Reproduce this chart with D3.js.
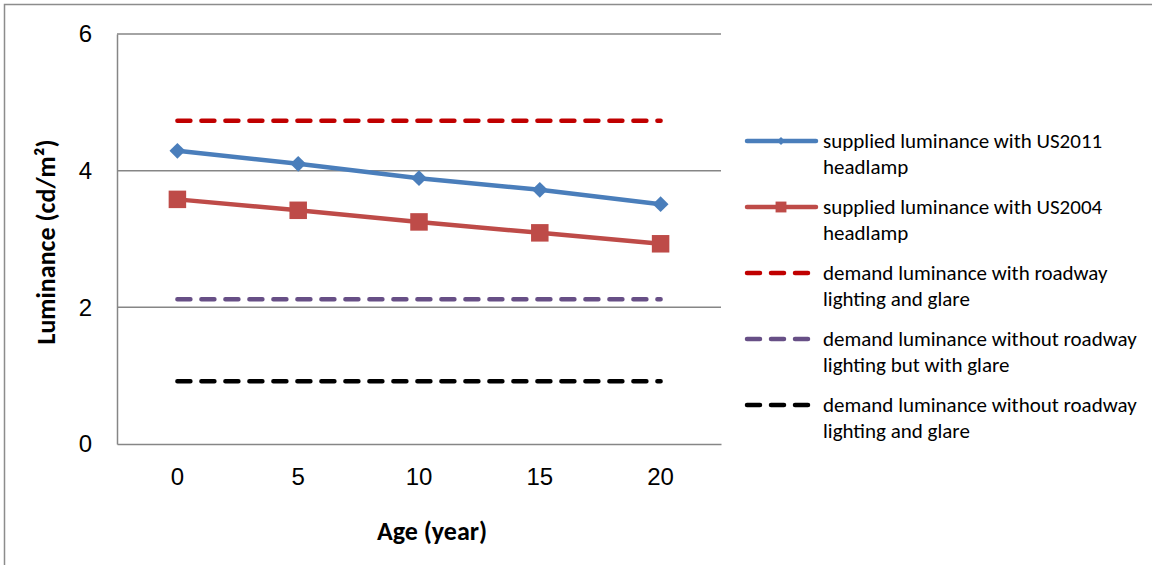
<!DOCTYPE html>
<html>
<head>
<meta charset="utf-8">
<script src="https://cdn.jsdelivr.net/npm/d3@7"></script>
<style>
  body { margin: 0; background: #fff; }
  svg { display: block; font-family: Carlito, Lato, "Open Sans", sans-serif; }
</style>
</head>
<body>
<div id="container"></div>
<script>
/* CONSTANTS AND GLOBALS */
const width = 1152,
  height = 565,
  margin = { top: 34, bottom: 121, left: 117, right: 431 };

// data
const ages = ["0", "5", "10", "15", "20"];
const us2011 = [4.29, 4.10, 3.89, 3.72, 3.51];
const us2004 = [3.58, 3.42, 3.25, 3.09, 2.93];
const demandWithLighting = [4.73, 4.73, 4.73, 4.73, 4.73];
const demandNoLightingGlare = [2.12, 2.12, 2.12, 2.12, 2.12];
const demandNoLighting = [0.92, 0.92, 0.92, 0.92, 0.92];
const yTicks = [0, 2, 4, 6];

const seriesNames = [
  ["supplied luminance with US2011", "headlamp"],
  ["supplied luminance with US2004", "headlamp"],
  ["demand luminance with roadway", "lighting and glare"],
  ["demand luminance without roadway", "lighting but with glare"],
  ["demand luminance without roadway", "lighting and glare"]
];

const series = [
  { values: us2011, color: "#4A7EBB", marker: "diamond", dashed: false },
  { values: us2004, color: "#BE4B48", marker: "square", dashed: false },
  { values: demandWithLighting, color: "#C00000", marker: null, dashed: true },
  { values: demandNoLightingGlare, color: "#674F86", marker: null, dashed: true },
  { values: demandNoLighting, color: "#000000", marker: null, dashed: true }
];

const svg = d3.select("#container")
  .append("svg")
  .attr("width", width)
  .attr("height", height);

// outer chart border (runs off the right and bottom edges)
svg.append("path")
  .attr("d", `M4.5,${height + 5} V4.5 H${width + 5}`)
  .attr("fill", "none")
  .attr("stroke", "#8c8c8c")
  .attr("stroke-width", 1.5);

// + SCALES
const xScale = d3.scaleBand()
  .domain(ages)
  .range([margin.left, width - margin.right]);

const yScale = d3.scaleLinear()
  .domain([0, 6])
  .range([height - margin.bottom, margin.top]);

const xPos = i => xScale(ages[i]) + xScale.bandwidth() / 2;

// gridlines
svg.append("g")
  .selectAll("line")
  .data(yTicks.filter(d => d > 0))
  .join("line")
  .attr("x1", margin.left)
  .attr("x2", width - margin.right)
  .attr("y1", d => yScale(d))
  .attr("y2", d => yScale(d))
  .attr("stroke", "#868686")
  .attr("stroke-width", 1.5);

// + AXES
const yAxis = d3.axisLeft(yScale).tickValues(yTicks).tickFormat(d3.format("d")).tickSize(0).tickPadding(25);
svg.append("g")
  .attr("transform", `translate(${margin.left},0)`)
  .call(yAxis)
  .call(g => g.select(".domain").attr("stroke", "#868686").attr("stroke-width", 1.5))
  .call(g => g.selectAll("text").attr("font-size", 24).attr("fill", "#000").attr("font-family", null));

const xAxis = d3.axisBottom(xScale).tickSize(0).tickPadding(24);
svg.append("g")
  .attr("transform", `translate(0,${height - margin.bottom})`)
  .call(xAxis)
  .call(g => g.select(".domain").attr("stroke", "#868686").attr("stroke-width", 1.5))
  .call(g => g.selectAll("text").attr("font-size", 24).attr("fill", "#000").attr("font-family", null));

// axis titles
svg.append("text")
  .attr("x", 432)
  .attr("y", 540)
  .attr("text-anchor", "middle")
  .attr("font-size", 26)
  .attr("font-weight", "bold")
  .text("Age (year)");

svg.append("text")
  .attr("transform", "translate(55,242) rotate(-90)")
  .attr("text-anchor", "middle")
  .attr("font-size", 26)
  .attr("font-weight", "bold")
  .text("Luminance (cd/m²)");

// + LINES
const line = d3.line()
  .x((d, i) => xPos(i))
  .y(d => yScale(d));

const diamond = d3.symbol().type(d3.symbolDiamond2).size(160);
const square = d3.symbol().type(d3.symbolSquare2).size(390);

series.forEach(s => {
  svg.append("path")
    .datum(s.values)
    .attr("d", line)
    .attr("fill", "none")
    .attr("stroke", s.color)
    .attr("stroke-width", 4.5)
    .attr("stroke-linecap", "round")
    .attr("stroke-dasharray", s.dashed ? "13,11" : null);

  if (s.marker) {
    svg.append("g")
      .selectAll("path")
      .data(s.values)
      .join("path")
      .attr("transform", (d, i) => `translate(${xPos(i)},${yScale(d)})`)
      .attr("d", s.marker === "diamond" ? diamond : square)
      .attr("fill", s.color);
  }
});

// + LEGEND
const legend = svg.append("g").attr("transform", "translate(745,0)");
const legendY = [141, 207, 273, 339, 405];

series.forEach((s, i) => {
  const g = legend.append("g").attr("transform", `translate(0,${legendY[i]})`);
  if (s.dashed) {
    g.append("line")
      .attr("x1", 2).attr("x2", 66)
      .attr("stroke", s.color)
      .attr("stroke-width", 4.5)
      .attr("stroke-linecap", "round")
      .attr("stroke-dasharray", "13,11");
  } else {
    g.append("line")
      .attr("x1", 2).attr("x2", 71)
      .attr("stroke", s.color)
      .attr("stroke-width", 4.5)
      .attr("stroke-linecap", "round");
    g.append("path")
      .attr("transform", "translate(36,0)")
      .attr("d", s.marker === "diamond" ? d3.symbol().type(d3.symbolDiamond2).size(40) : d3.symbol().type(d3.symbolSquare2).size(150))
      .attr("fill", s.color);
  }
  const t = g.append("text")
    .attr("x", 78)
    .attr("font-size", 21)
    .attr("fill", "#000");
  seriesNames[i].forEach((name, j) => {
    t.append("tspan")
      .attr("x", 78)
      .attr("y", 7 + j * 26)
      .text(name);
  });
});
</script>
</body>
</html>
